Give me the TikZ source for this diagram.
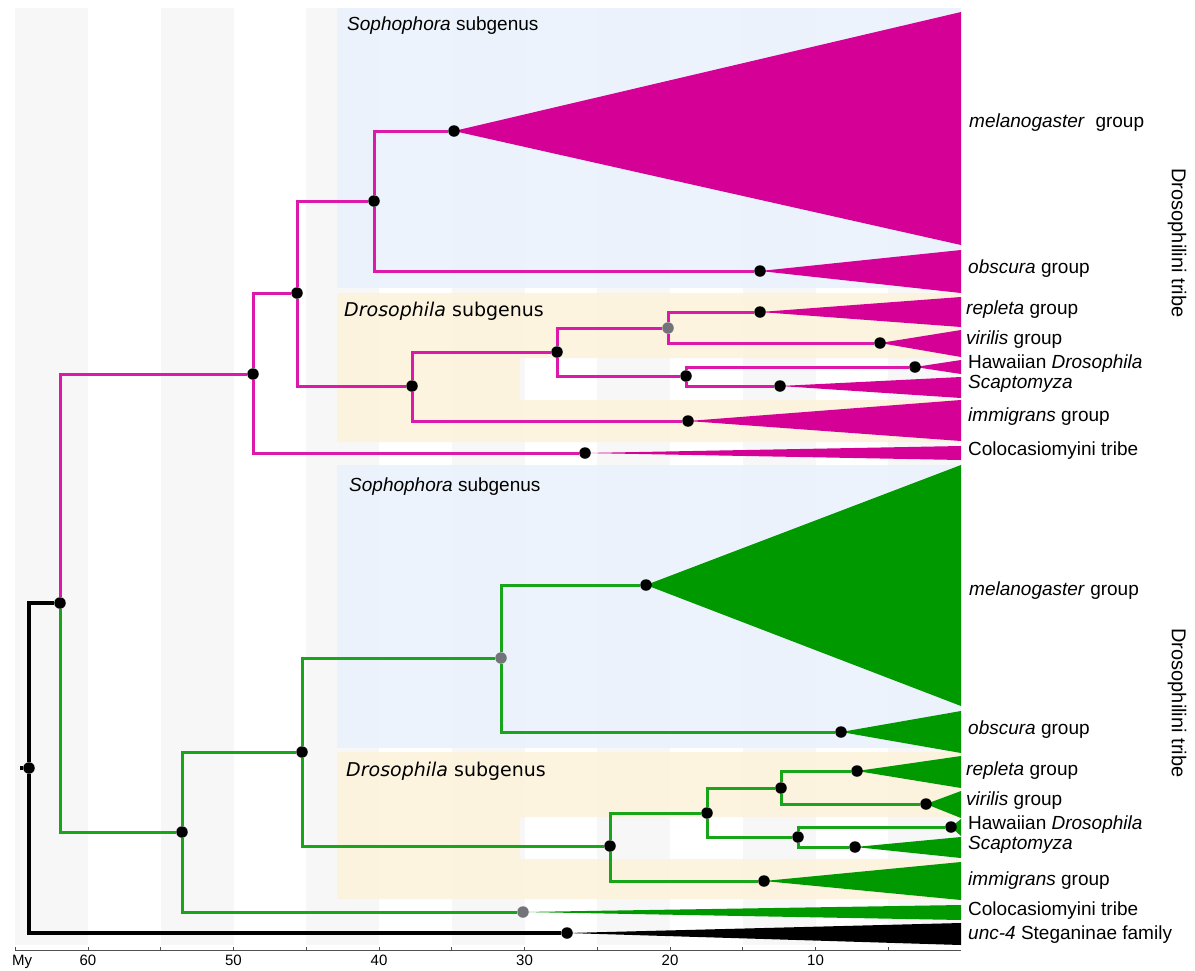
\documentclass[tikz,border=0pt]{standalone}
\usepackage{fontspec}
\setmainfont{Liberation Sans}
\newfontfamily\dejavu{DejaVu Sans}
\pgfdeclarelayer{bg}
\pgfdeclarelayer{fg}
\pgfsetlayers{bg,main,fg}
\definecolor{mag}{RGB}{213,0,150}
\definecolor{magl}{RGB}{220,25,170}
\definecolor{grn}{RGB}{0,153,0}
\definecolor{grnl}{RGB}{25,165,25}
\definecolor{bandc}{RGB}{247,247,247}
\definecolor{sophc}{RGB}{233,242,252}
\definecolor{drosc}{RGB}{252,243,218}
\definecolor{gdotc}{RGB}{115,115,122}
\definecolor{axc}{RGB}{80,80,80}
\begin{document}
\begin{tikzpicture}[x=1pt,y=-1pt,
  dot/.style={circle,fill=black,inner sep=0pt,minimum size=11.5pt},
  gdot/.style={circle,fill=gdotc,inner sep=0pt,minimum size=11.5pt},
  mbr/.style={draw=magl,line width=3pt},
  gbr/.style={draw=grnl,line width=3pt},
  kbr/.style={draw=black,line width=3.2pt},
  lab/.style={anchor=west,inner sep=0pt,font=\fontsize{19}{21}\selectfont},
  sublab/.style={anchor=west,inner sep=0pt,font=\fontsize{19}{21}\selectfont},
  axlab/.style={inner sep=0pt,font=\fontsize{15}{17}\selectfont},
  tribelab/.style={rotate=-90,inner sep=0pt,font=\fontsize{20}{22}\selectfont}]
\useasboundingbox (0,0) rectangle (1195,970);
\fill[white] (0,0) rectangle (1195,970);
% background bands
\foreach \a in {65,55,45,35,25,15,5}{
  \pgfmathsetmacro{\xa}{max(15,961-14.55*\a)}
  \pgfmathsetmacro{\xb}{961-14.55*(\a-5)}
  \fill[bandc] (\xa,8) rectangle (\xb,945);
}
% subgenus regions
\fill[sophc,opacity=0.85] (337,8) rectangle (961,288);
\fill[drosc,opacity=0.85,even odd rule] (337,293) rectangle (961,442) (520,358) rectangle (961,400);
\fill[sophc,opacity=0.85] (337,465) rectangle (961,748);
\fill[drosc,opacity=0.85,even odd rule] (337,752) rectangle (961,899) (520,817) rectangle (961,859);
\node[sublab] (s1) at (347,26) {\textit{Sophophora} subgenus};
\node[sublab] (s2) at (349,487) {\textit{Sophophora} subgenus};
\node[sublab] (d1) at (344,311) {\dejavu\textit{Drosophila} subgenus};
\node[sublab] (d2) at (346,771) {\dejavu\textit{Drosophila} subgenus};
% axis
\draw[axc,line width=0.9pt] (15,950) -- (961,950);
\foreach \a in {65,60,...,5}{
  \pgfmathsetmacro{\xa}{961-14.55*\a}
  \draw[axc,line width=0.7pt] (\xa,950) -- (\xa,946.5);
}
\node[axlab,anchor=base west] (my) at (12,965) {My};
\foreach \a in {60,50,40,30,20,10}{
  \pgfmathsetmacro{\xa}{961-14.55*\a}
  \node[axlab,anchor=base] (ax\a) at (\xa,965) {\a};
}
% tree node dots
\begin{pgfonlayer}{fg}
\node[dot] (root) at (29,768) {};
\node[dot] (A) at (60,603) {};
\node[dot] (U) at (567,933) {};
\node[dot] (M1) at (253,374) {};
\node[dot] (M2) at (297,293) {};
\node[dot] (MC) at (585,453) {};
\node[dot] (M3) at (374,201) {};
\node[dot] (M4) at (412,386) {};
\node[dot] (Mmel) at (454,131) {};
\node[dot] (Mobs) at (760,271) {};
\node[dot] (M5) at (557,352) {};
\node[dot] (Mimm) at (688,421) {};
\node[gdot] (M6) at (668,328) {};
\node[dot] (M7) at (686,376) {};
\node[dot] (Mrep) at (760,312) {};
\node[dot] (Mvir) at (880,343) {};
\node[dot] (Mhaw) at (915,367) {};
\node[dot] (Msca) at (780,386) {};
\node[dot] (G1) at (182,832) {};
\node[dot] (G2) at (302,752) {};
\node[gdot] (GC) at (523,912) {};
\node[gdot] (G3) at (501,658) {};
\node[dot] (G4) at (610,846) {};
\node[dot] (Gmel) at (646,585) {};
\node[dot] (Gobs) at (841,732) {};
\node[dot] (G5) at (707,813) {};
\node[dot] (Gimm) at (764,881) {};
\node[dot] (G6) at (781,788) {};
\node[dot] (G7) at (798,837) {};
\node[dot] (Grep) at (857,771) {};
\node[dot] (Gvir) at (926,804) {};
\node[dot] (Ghaw) at (951,827) {};
\node[dot] (Gsca) at (855,847) {};
\end{pgfonlayer}
\coordinate (rtick) at (20,768);
% wedges
\fill[mag] (Mmel.center) -- (961,12) -- (961,245) -- cycle;
\fill[mag] (Mobs.center) -- (961,250) -- (961,293) -- cycle;
\fill[mag] (Mrep.center) -- (961,297) -- (961,327) -- cycle;
\fill[mag] (Mvir.center) -- (961,330) -- (961,357) -- cycle;
\fill[mag] (Mhaw.center) -- (961,360) -- (961,374) -- cycle;
\fill[mag] (Msca.center) -- (961,377) -- (961,398) -- cycle;
\fill[mag] (Mimm.center) -- (961,400) -- (961,441) -- cycle;
\fill[mag] (MC.center) -- (961,446) -- (961,460) -- cycle;
\fill[grn] (Gmel.center) -- (961,465) -- (961,706) -- cycle;
\fill[grn] (Gobs.center) -- (961,711) -- (961,753) -- cycle;
\fill[grn] (Grep.center) -- (961,756) -- (961,788) -- cycle;
\fill[grn] (Gvir.center) -- (961,791) -- (961,818) -- cycle;
\fill[grn] (Ghaw.center) -- (961,819) -- (961,836) -- cycle;
\fill[grn] (Gsca.center) -- (961,837) -- (961,858) -- cycle;
\fill[grn] (Gimm.center) -- (961,862) -- (961,900) -- cycle;
\fill[grn] (GC.center) -- (961,905) -- (961,920) -- cycle;
\fill[black] (U.center) -- (961,923) -- (961,945) -- cycle;
% branches
\draw[kbr] (rtick) -- (root);
\draw[kbr] (root) |- (A);
\draw[kbr] (root) |- (U);
\draw[mbr] (A) |- (M1);
\draw[mbr] (M1) |- (M2);
\draw[mbr] (M1) |- (MC);
\draw[mbr] (M2) |- (M3);
\draw[mbr] (M2) |- (M4);
\draw[mbr] (M3) |- (Mmel);
\draw[mbr] (M3) |- (Mobs);
\draw[mbr] (M4) |- (M5);
\draw[mbr] (M4) |- (Mimm);
\draw[mbr] (M5) |- (M6);
\draw[mbr] (M5) |- (M7);
\draw[mbr] (M6) |- (Mrep);
\draw[mbr] (M6) |- (Mvir);
\draw[mbr] (M7) |- (Mhaw);
\draw[mbr] (M7) |- (Msca);
\draw[gbr] (A) |- (G1);
\draw[gbr] (G1) |- (G2);
\draw[gbr] (G1) |- (GC);
\draw[gbr] (G2) |- (G3);
\draw[gbr] (G2) |- (G4);
\draw[gbr] (G3) |- (Gmel);
\draw[gbr] (G3) |- (Gobs);
\draw[gbr] (G4) |- (G5);
\draw[gbr] (G4) |- (Gimm);
\draw[gbr] (G5) |- (G6);
\draw[gbr] (G5) |- (G7);
\draw[gbr] (G6) |- (Grep);
\draw[gbr] (G6) |- (Gvir);
\draw[gbr] (G7) |- (Ghaw);
\draw[gbr] (G7) |- (Gsca);
% labels
\node[lab] (l1) at (969,123) {\textit{melanogaster}~ group};
\node[lab] (l2) at (968,269) {\textit{obscura} group};
\node[lab] (l3) at (966,310) {\textit{repleta} group};
\node[lab] (l4) at (966,340) {\textit{virilis} group};
\node[lab] (l5) at (968,364) {Hawaiian \textit{Drosophila}};
\node[lab] (l6) at (968,384) {\textit{Scaptomyza}};
\node[lab] (l7) at (968,417) {\textit{immigrans} group};
\node[lab] (l8) at (968,451) {Colocasiomyini tribe};
\node[lab] (l9) at (969,591) {\textit{melanogaster} group};
\node[lab] (l10) at (968,730) {\textit{obscura} group};
\node[lab] (l11) at (966,771) {\textit{repleta} group};
\node[lab] (l12) at (966,801) {\textit{virilis} group};
\node[lab] (l13) at (968,825) {Hawaiian \textit{Drosophila}};
\node[lab] (l14) at (968,845) {\textit{Scaptomyza}};
\node[lab] (l15) at (968,881) {\textit{immigrans} group};
\node[lab] (l16) at (968,911) {Colocasiomyini tribe};
\node[lab] (l17) at (968,935) {\textit{unc-4} Steganinae family};
\node[tribelab] (t1) at (1177,243) {Drosophilini tribe};
\node[tribelab] (t2) at (1177,703) {Drosophilini tribe};
\end{tikzpicture}
\end{document}
